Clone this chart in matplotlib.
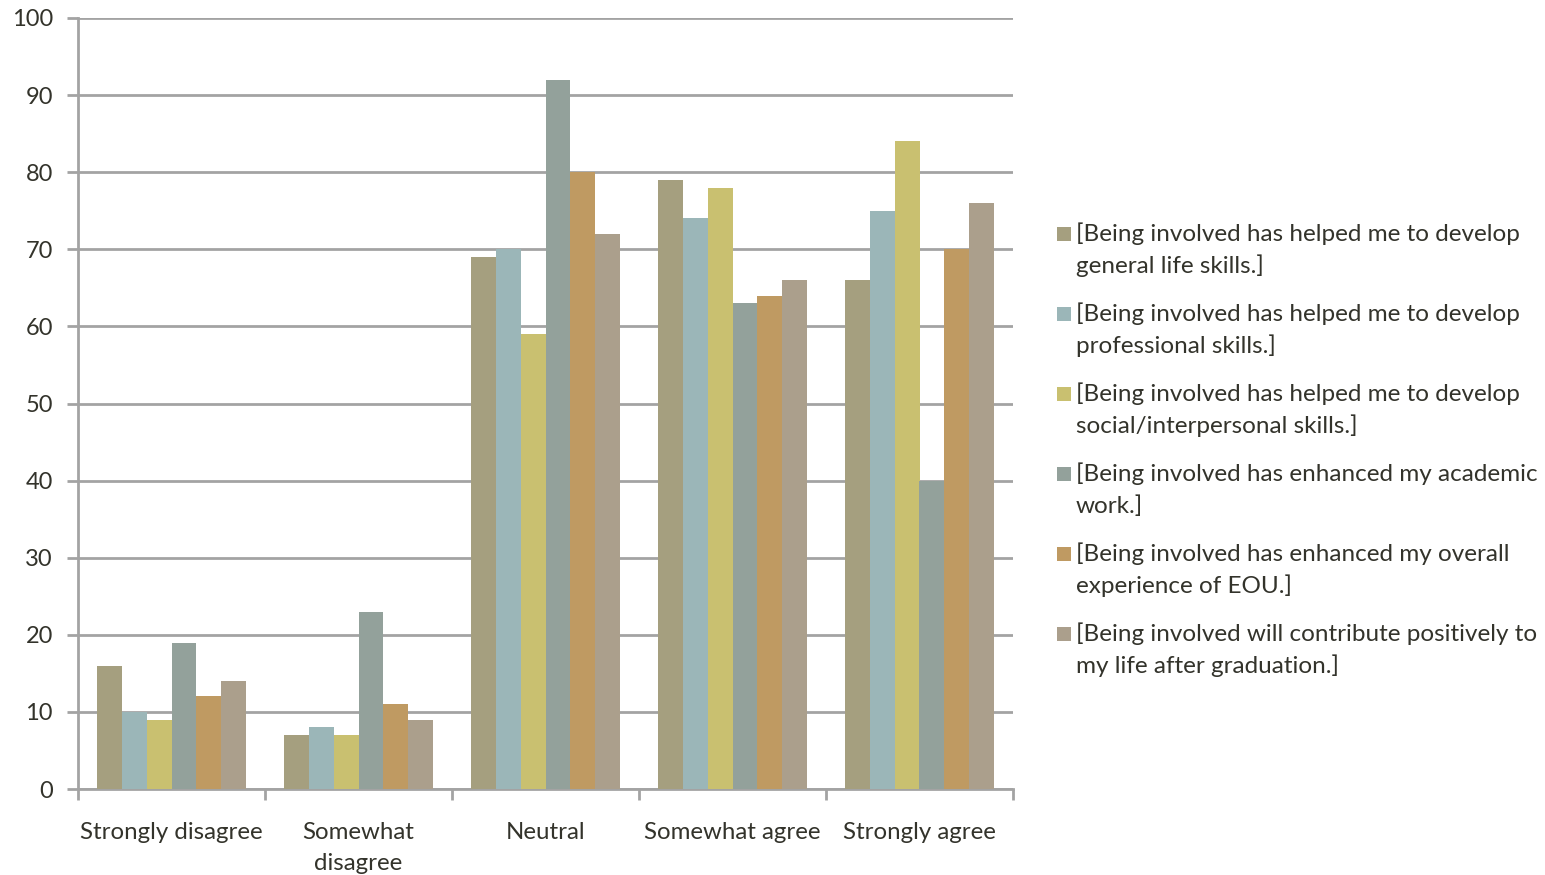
import matplotlib
matplotlib.use("Agg")
import matplotlib.pyplot as plt
from matplotlib.patches import Rectangle
import numpy as np

categories = ["Strongly disagree", "Somewhat\ndisagree", "Neutral", "Somewhat agree", "Strongly agree"]
series_labels = [
    ("[Being involved has helped me to develop", "general life skills.]"),
    ("[Being involved has helped me to develop", "professional skills.]"),
    ("[Being involved has helped me to develop", "social/interpersonal skills.]"),
    ("[Being involved has enhanced my academic", "work.]"),
    ("[Being involved has enhanced my overall", "experience of EOU.]"),
    ("[Being involved will contribute positively to", "my life after graduation.]"),
]
general_life = [16, 7, 69, 79, 66]
professional = [10, 8, 70, 74, 75]
social = [9, 7, 59, 78, 84]
academic = [19, 23, 92, 63, 40]
overall_eou = [12, 11, 80, 64, 70]
after_grad = [14, 9, 72, 66, 76]
series_values = [general_life, professional, social, academic, overall_eou, after_grad]
colors = ["#a59f7f", "#9bb6b8", "#c9c070", "#93a19b", "#bf9a62", "#ab9f8c"]
y_ticks = [0, 10, 20, 30, 40, 50, 60, 70, 80, 90, 100]

plt.rcParams['font.family'] = ['Lato', 'DejaVu Sans']
text_color = "#33332b"
grid_color = "#a3a3a3"
W, H = 1545, 875

fig = plt.figure(figsize=(W/100, H/100), dpi=100)
ax = fig.add_axes([78/W, 1-789/H, (1013-78)/W, (789-18)/H])

n = len(series_values)
x = np.arange(len(categories))
bw = 0.133
for i, (vals, c) in enumerate(zip(series_values, colors)):
    offs = (i - (n-1)/2) * bw
    ax.bar(x + offs, vals, width=bw, color=c, zorder=3, linewidth=0)

ax.set_xlim(-0.5, len(categories)-0.5)
ax.set_ylim(0, 100)
ax.set_yticks(y_ticks)
ax.set_yticklabels([str(v) for v in y_ticks], fontsize=17, color=text_color)
ax.yaxis.grid(True, color=grid_color, linewidth=2, zorder=0)
ax.set_xticks(x)
ax.set_xticklabels(categories, fontsize=17.3, color=text_color, linespacing=1.55)
ax.tick_params(axis='x', length=0, pad=24)
ax.set_xticks(np.arange(-0.5, len(categories), 1.0), minor=True)
ax.tick_params(axis='x', which='minor', length=8, width=2, color=grid_color, direction='out')
ax.tick_params(axis='y', length=8, width=2, color=grid_color, direction='out', pad=10)
for s in ['top', 'right']:
    ax.spines[s].set_visible(False)
for s in ['left', 'bottom']:
    ax.spines[s].set_color(grid_color)
    ax.spines[s].set_linewidth(2)

# legend (manual layout to match wrapped entries)
for i, ((l1, l2), c) in enumerate(zip(series_labels, colors)):
    yc = 234 + 80 * i
    fig.patches.append(Rectangle((1057/W, 1-(yc+7)/H), 14/W, 14/H, transform=fig.transFigure,
                                 facecolor=c, edgecolor='none'))
    fig.text(1076/W, 1-yc/H, l1, fontsize=17.5, color=text_color, va='center', ha='left')
    fig.text(1076/W, 1-(yc+32)/H, l2, fontsize=17.5, color=text_color, va='center', ha='left')

fig.savefig("out.png", dpi=100, facecolor="white")
